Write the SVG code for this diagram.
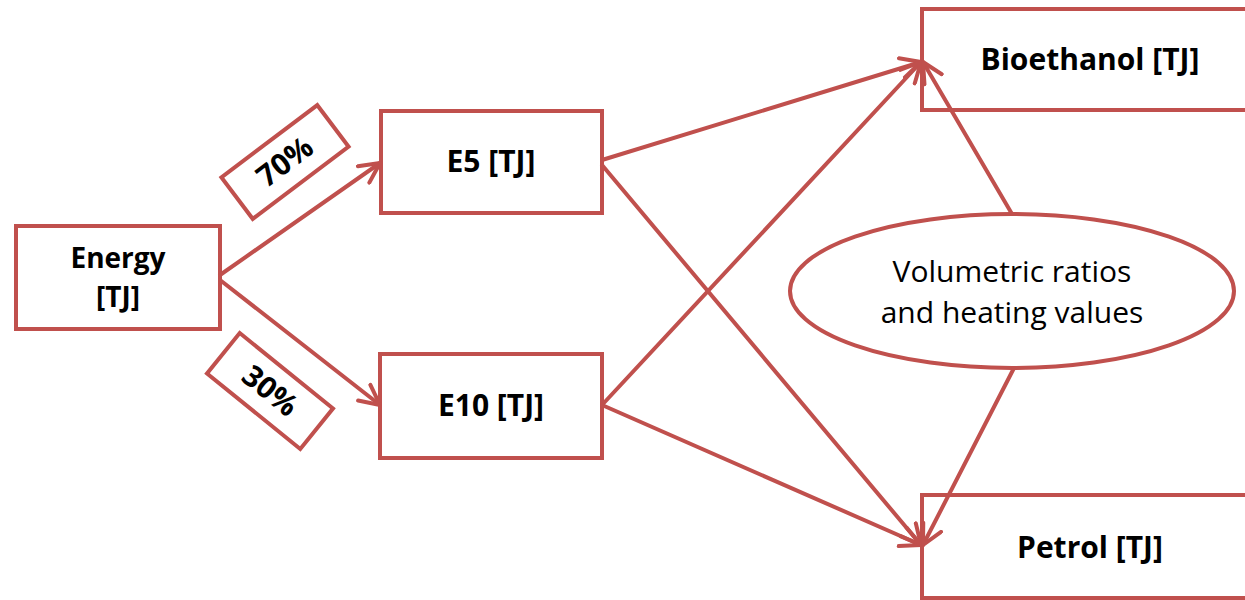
<svg xmlns="http://www.w3.org/2000/svg" width="1245" height="600" viewBox="0 0 1245 600">
<style>
.box{fill:#fff;stroke:#C0504D;stroke-width:4}
.lbl{font-family:"Open Sans","Noto Sans",sans-serif;font-weight:bold;font-size:30px;fill:#000;text-anchor:middle}
.sm{font-size:28px}
.reg{font-family:"Open Sans","Noto Sans",sans-serif;font-size:30px;fill:#000;text-anchor:middle}
.con{stroke:#C0504D;stroke-width:4;fill:none;stroke-linecap:round}
</style>
<defs>
<marker id="arr" viewBox="0 0 24 24" refX="22" refY="12" markerWidth="24" markerHeight="24" markerUnits="userSpaceOnUse" orient="auto">
<path d="M2,2 L22,12 L2,22" fill="none" stroke="#C0504D" stroke-width="4" stroke-linecap="round" stroke-linejoin="round"/>
</marker>
</defs>
<g id="energy">
<rect class="box" x="16" y="226" width="204" height="103"/>
<text class="lbl sm" x="118" y="268">Energy</text>
<text class="lbl sm" x="118" y="307">[TJ]</text>
</g>
<g id="label70">
<rect class="box" x="-60" y="-26" width="120" height="52" transform="translate(285,162) rotate(-37)"/>
<text class="lbl" transform="translate(285,162) rotate(-37)" y="10">70%</text>
</g>
<g id="label30">
<rect class="box" x="-60" y="-26" width="120" height="52" transform="translate(270,391) rotate(39)"/>
<text class="lbl" transform="translate(270,391) rotate(39)" y="10">30%</text>
</g>
<g id="e5">
<rect class="box" x="381" y="111" width="221" height="102"/>
<text class="lbl" x="491" y="172">E5 [TJ]</text>
</g>
<g id="e10">
<rect class="box" x="380" y="354" width="222" height="104"/>
<text class="lbl" x="491" y="416">E10 [TJ]</text>
</g>
<g id="bioethanol">
<rect class="box" x="922" y="9" width="340" height="101"/>
<text class="lbl" x="1090" y="70">Bioethanol [TJ]</text>
</g>
<g id="petrol">
<rect class="box" x="922" y="495" width="340" height="103"/>
<text class="lbl" x="1090" y="558">Petrol [TJ]</text>
</g>
<g id="ratios">
<ellipse class="box" cx="1012" cy="291" rx="222" ry="77"/>
<text class="reg" x="1012" y="282">Volumetric ratios</text>
<text class="reg" x="1012" y="323">and heating values</text>
</g>
<g id="connectors">
<line class="con" x1="220" y1="275" x2="380" y2="163" marker-end="url(#arr)"/>
<line class="con" x1="220" y1="280" x2="380" y2="405" marker-end="url(#arr)"/>
<line class="con" x1="602" y1="160" x2="921" y2="62" marker-end="url(#arr)"/>
<line class="con" x1="602" y1="165" x2="921" y2="545" marker-end="url(#arr)"/>
<line class="con" x1="602" y1="405" x2="921" y2="62" marker-end="url(#arr)"/>
<line class="con" x1="602" y1="405" x2="921" y2="545" marker-end="url(#arr)"/>
<line class="con" x1="1012" y1="214" x2="923" y2="62" marker-end="url(#arr)"/>
<line class="con" x1="1014" y1="368" x2="923" y2="545" marker-end="url(#arr)"/>
</g>
</svg>
